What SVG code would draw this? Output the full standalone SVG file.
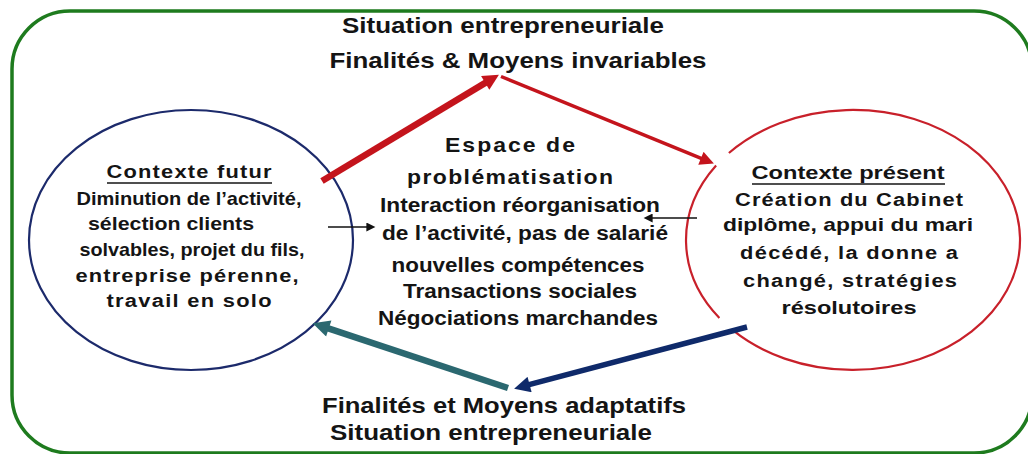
<svg xmlns="http://www.w3.org/2000/svg" width="1028" height="454" viewBox="0 0 1028 454">
<style>
.t{font-family:"Liberation Sans",Arial,sans-serif;font-weight:bold;fill:#141414;text-anchor:middle}
.title{font-size:22px}
.c{font-size:19px}
.m{font-size:20px}
.ul{stroke:#141414;stroke-width:1.6}
</style>
<defs>
<marker id="hRed" viewBox="0 0 10 10" markerUnits="userSpaceOnUse" markerWidth="18" markerHeight="16" refX="4" refY="5" orient="auto"><path d="M0,0 L10,5 L0,10 z" fill="#c4141c"/></marker>
<marker id="hRed2" viewBox="0 0 10 10" markerUnits="userSpaceOnUse" markerWidth="16" markerHeight="14" refX="4" refY="5" orient="auto"><path d="M0,0 L10,5 L0,10 z" fill="#c4141c"/></marker>
<marker id="hTeal" viewBox="0 0 10 10" markerUnits="userSpaceOnUse" markerWidth="18" markerHeight="17" refX="4" refY="5" orient="auto"><path d="M0,0 L10,5 L0,10 z" fill="#2b6870"/></marker>
<marker id="hBlue" viewBox="0 0 10 10" markerUnits="userSpaceOnUse" markerWidth="18" markerHeight="16" refX="4" refY="5" orient="auto"><path d="M0,0 L10,5 L0,10 z" fill="#0f2a6a"/></marker>
<marker id="hBlack" viewBox="0 0 10 10" markerUnits="userSpaceOnUse" markerWidth="11" markerHeight="9" refX="2" refY="5" orient="auto"><path d="M0,0 L10,5 L0,10 z" fill="#111"/></marker>
</defs>
<rect x="0" y="0" width="1028" height="454" fill="#fff"/>
<g id="frame">
<rect x="12" y="11" width="1020" height="442" rx="58" ry="58" fill="none" stroke="#1e7b1e" stroke-width="3.5"/>
<text class="t title" x="503" y="33" textLength="322" lengthAdjust="spacingAndGlyphs">Situation entrepreneuriale</text>
<text class="t title" x="518" y="68" textLength="377" lengthAdjust="spacingAndGlyphs">Finalités &amp; Moyens invariables</text>
<text class="t title" x="504" y="413" textLength="364" lengthAdjust="spacingAndGlyphs">Finalités et Moyens adaptatifs</text>
<text class="t title" x="491" y="440" textLength="322" lengthAdjust="spacingAndGlyphs">Situation entrepreneuriale</text>
</g>
<g id="futur">
<ellipse cx="191" cy="240" rx="162" ry="130" fill="none" stroke="#1c2a6b" stroke-width="2.2"/>
<text class="t c" x="189" y="178" textLength="143.5" lengthAdjust="spacing" transform="matrix(1.15 0 0 1 -28.35 0)">Contexte futur</text>
<line class="ul" x1="107" y1="183" x2="272" y2="183"/>
<text class="t c" x="189" y="205" textLength="225" lengthAdjust="spacingAndGlyphs">Diminution de l’activité,</text>
<text class="t c" x="171" y="230" textLength="166" lengthAdjust="spacingAndGlyphs">sélection clients</text>
<text class="t c" x="192" y="256" textLength="225" lengthAdjust="spacingAndGlyphs">solvables, projet du fils,</text>
<text class="t c" x="187" y="282" textLength="193.9" lengthAdjust="spacing" transform="matrix(1.15 0 0 1 -28.05 0)">entreprise pérenne,</text>
<text class="t c" x="189" y="307" textLength="143.5" lengthAdjust="spacing" transform="matrix(1.15 0 0 1 -28.35 0)">travail en solo</text>
</g>
<g id="espace">
<text class="t m" x="510" y="152" textLength="113" lengthAdjust="spacing" transform="matrix(1.15 0 0 1 -76.5 0)">Espace de</text>
<text class="t m" x="510" y="184" textLength="179.1" lengthAdjust="spacing" transform="matrix(1.15 0 0 1 -76.5 0)">problématisation</text>
<text class="t m" x="520" y="212" textLength="280" lengthAdjust="spacingAndGlyphs">Interaction réorganisation</text>
<text class="t m" x="525" y="240" textLength="286" lengthAdjust="spacingAndGlyphs">de l’activité, pas de salarié</text>
<text class="t m" x="518" y="272" textLength="253" lengthAdjust="spacingAndGlyphs">nouvelles compétences</text>
<text class="t m" x="520" y="298" textLength="234" lengthAdjust="spacingAndGlyphs">Transactions sociales</text>
<text class="t m" x="518" y="325" textLength="280" lengthAdjust="spacingAndGlyphs">Négociations marchandes</text>
</g>
<g id="present">
<path d="M728.9,153 A167,130 0 1 1 732.8,330.2 M719.4,318 A167,130 0 0 1 716.1,165.6" fill="none" stroke="#c8202a" stroke-width="2.2"/>
<text class="t c" x="848" y="179" textLength="193" lengthAdjust="spacingAndGlyphs">Contexte présent</text>
<line class="ul" x1="752" y1="184" x2="945" y2="184"/>
<text class="t c" x="849" y="206" textLength="198.3" lengthAdjust="spacing" transform="matrix(1.15 0 0 1 -127.35 0)">Création du Cabinet</text>
<text class="t c" x="848" y="231" textLength="250" lengthAdjust="spacingAndGlyphs">diplôme, appui du mari</text>
<text class="t c" x="849" y="259" textLength="189.6" lengthAdjust="spacing" transform="matrix(1.15 0 0 1 -127.35 0)">décédé, la donne a</text>
<text class="t c" x="850" y="287" textLength="186.1" lengthAdjust="spacing" transform="matrix(1.15 0 0 1 -127.5 0)">changé, stratégies</text>
<text class="t c" x="849" y="314" textLength="135" lengthAdjust="spacingAndGlyphs">résolutoires</text>
</g>
<g id="connectors" fill="none">
<line x1="322" y1="181" x2="490.7" y2="79.6" stroke="#c4141c" stroke-width="6.5" marker-end="url(#hRed)"/>
<line x1="501" y1="76.5" x2="706.1" y2="160.4" stroke="#c4141c" stroke-width="3.5" marker-end="url(#hRed2)"/>
<line x1="508" y1="388" x2="322.3" y2="326.4" stroke="#2b6870" stroke-width="6.5" marker-end="url(#hTeal)"/>
<line x1="747" y1="327" x2="523.4" y2="386.2" stroke="#0f2a6a" stroke-width="5.5" marker-end="url(#hBlue)"/>
<line x1="328" y1="227" x2="368.2" y2="227" stroke="#111" stroke-width="1.5" marker-end="url(#hBlack)"/>
<line x1="697" y1="218" x2="650.8" y2="218" stroke="#111" stroke-width="1.5" marker-end="url(#hBlack)"/>
</g>
</svg>
